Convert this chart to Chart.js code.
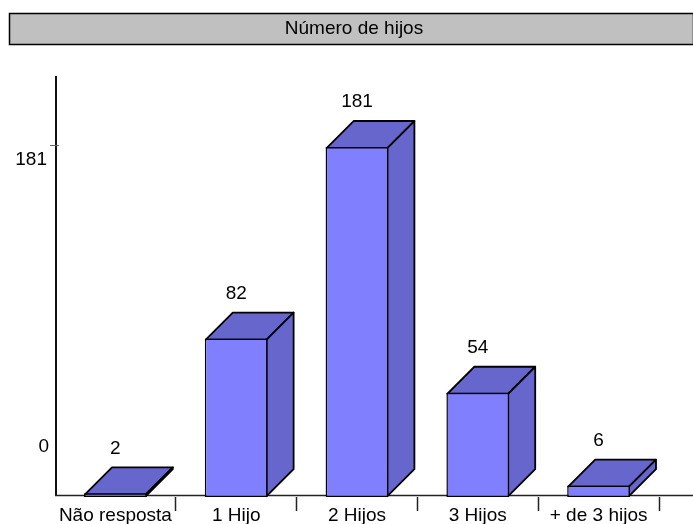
<!DOCTYPE html>
<html>
<head>
<meta charset="utf-8">
<title>Número de hijos</title>
<script src="https://cdn.jsdelivr.net/npm/chart.js@4"></script>
<style>
html,body{margin:0;padding:0;background:#fff}
canvas{display:block}
</style>
</head>
<body>
<canvas id="c" width="693" height="524"></canvas>
<script>
const titleText = 'Número de hijos';
const categories = ['Não resposta', '1 Hijo', '2 Hijos', '3 Hijos', '+ de 3 hijos'];
const counts = [2, 82, 181, 54, 6];
const valueTick = 181;
const zeroLabel = '0';

const FAMILY = '"Liberation Sans", Arial, sans-serif';
const FONT = '19px ' + FAMILY;
const FRONT = '#8080ff';
const SHADE = '#6666cc';
const INK = '#000';
const DEPTH = 27;

// Title band, both axis lines, the value tick and the stray zero label
const frame = {
  id: 'frame',
  beforeDraw(chart) {
    const c = chart.ctx;
    c.save();
    c.fillStyle = '#c0c0c0';
    c.strokeStyle = INK;
    c.lineWidth = 1.5;
    c.fillRect(9.5, 13.5, 684, 31);
    c.strokeRect(9.5, 13.5, 684, 31);
    c.fillStyle = INK;
    c.font = FONT;
    c.textAlign = 'center';
    c.textBaseline = 'middle';
    c.fillText(titleText, 354, 29);
    c.textAlign = 'right';
    c.fillText(zeroLabel, 49, 447);
    c.restore();
  },
  beforeDatasetsDraw(chart) {
    const c = chart.ctx, a = chart.chartArea;
    const tickY = Math.round(chart.scales.y.getPixelForValue(valueTick)) - 1.5;
    c.save();
    c.strokeStyle = '#111';
    c.lineWidth = 2;
    c.beginPath();
    c.moveTo(a.left + 1, a.top);
    c.lineTo(a.left + 1, 496);
    c.stroke();
    c.strokeStyle = '#222';
    c.lineWidth = 1.5;
    c.beginPath();
    c.moveTo(a.left, 495.5);
    c.lineTo(chart.width, 495.5);
    c.stroke();
    c.strokeStyle = '#666';
    c.lineWidth = 1;
    c.beginPath();
    c.moveTo(50, tickY);
    c.lineTo(59, tickY);
    c.stroke();
    c.restore();
  }
};

// Extruded side and top faces behind each bar, with the value above them
const extrude = {
  id: 'extrude',
  beforeDatasetsDraw(chart) {
    const c = chart.ctx;
    const bars = chart.getDatasetMeta(0).data;
    c.save();
    c.fillStyle = SHADE;
    c.strokeStyle = INK;
    c.lineWidth = 1.8;
    c.lineJoin = 'round';
    bars.forEach(b => {
      const l = b.x - b.width / 2 + 1, r = b.x + b.width / 2 - 1, t = b.y + 1, m = b.base - 1;
      c.beginPath();
      c.moveTo(l, t);
      c.lineTo(l + DEPTH, t - DEPTH);
      c.lineTo(r + DEPTH, t - DEPTH);
      c.lineTo(r, t);
      c.closePath();
      c.fill(); c.stroke();
      c.beginPath();
      c.moveTo(r, t);
      c.lineTo(r + DEPTH, t - DEPTH);
      c.lineTo(r + DEPTH, m - DEPTH);
      c.lineTo(r, m);
      c.closePath();
      c.fill(); c.stroke();
    });
    c.restore();
  },
  afterDatasetsDraw(chart) {
    const c = chart.ctx;
    const bars = chart.getDatasetMeta(0).data;
    c.save();
    c.fillStyle = INK;
    c.font = FONT;
    c.textAlign = 'center';
    c.textBaseline = 'middle';
    bars.forEach((b, i) => c.fillText(String(counts[i]), b.x, b.y - DEPTH - 18));
    c.restore();
  }
};

new Chart(document.getElementById('c'), {
  type: 'bar',
  data: {
    labels: categories,
    datasets: [{
      data: counts,
      backgroundColor: FRONT,
      borderColor: INK,
      borderWidth: 1.5,
      borderSkipped: false,
      barPercentage: 0.52,
      categoryPercentage: 1
    }]
  },
  plugins: [frame, extrude],
  options: {
    responsive: false,
    animation: false,
    layout: { padding: { top: 76, right: 34, left: 0, bottom: 0 } },
    plugins: { legend: { display: false }, title: { display: false }, tooltip: { enabled: false } },
    scales: {
      x: {
        offset: true,
        afterFit(s) { s.height = 27; },
        border: { display: false },
        grid: {
          offset: true,
          drawOnChartArea: false,
          tickLength: 14,
          tickWidth: 1.5,
          tickColor: ctx => (ctx.index === 0 ? 'transparent' : '#222')
        },
        ticks: { color: INK, font: { family: FAMILY, size: 19 }, padding: -7, maxRotation: 0, autoSkip: false }
      },
      y: {
        min: 0.12,
        max: 217.7,
        afterFit(s) { s.width = 55; },
        afterBuildTicks(s) { s.ticks = [{ value: valueTick }]; },
        border: { display: false },
        grid: { drawOnChartArea: false, drawTicks: false },
        ticks: { color: INK, font: { family: FAMILY, size: 19 }, padding: 8, labelOffset: 13 }
      }
    }
  }
});
</script>
</body>
</html>
